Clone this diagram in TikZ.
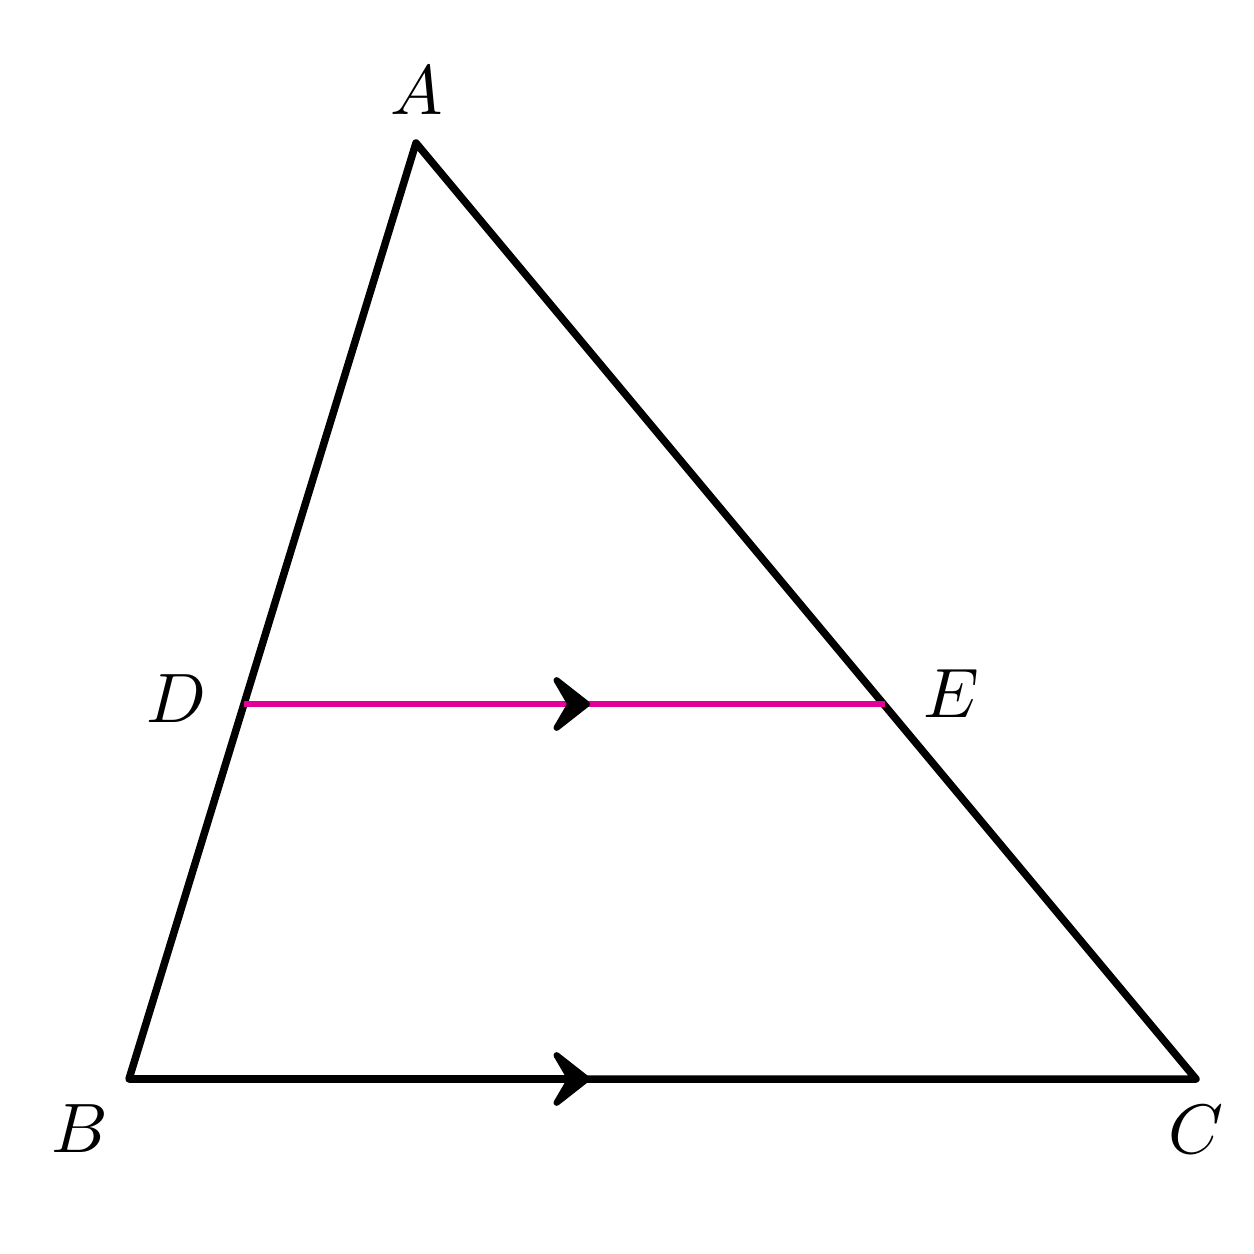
\documentclass[tikz,border=0pt]{standalone}
\usetikzlibrary{arrows.meta}
\definecolor{mag}{RGB}{228,0,150}
\begin{document}
\begin{tikzpicture}[x=1pt,y=-1pt,
  side/.style={line width=7.5pt,line join=round,line cap=round},
  lab/.style={scale=7, inner sep=0pt},
  chev/.style={-{Stealth[length=46pt,width=72pt,inset=21pt,round]}}]
\useasboundingbox (0,0) rectangle (1254,1254);
\coordinate (A) at (416,143);
\coordinate (B) at (129,1079);
\coordinate (C) at (1196,1079);
\coordinate (D) at (243.8,704);
\coordinate (E) at (885,704);
\coordinate (M0) at (587,704);
\coordinate (M1) at (590,704);
\coordinate (M2) at (590,1079);
\draw[side] (A) -- (B) -- (C) -- cycle;
\draw[mag,line width=6pt] (D) -- (E);
\draw[line width=7.5pt,chev] (B) -- (M2);
\path[line width=7.5pt,chev,draw] (M0) -- (M1);
\node[lab] (lA) at (417,91) {$A$};
\node[lab] (lB) at (80,1129) {$B$};
\node[lab] (lC) at (1196,1130) {$C$};
\node[lab] (lD) at (176,699) {$D$};
\node[lab] (lE) at (951,694) {$E$};
\end{tikzpicture}
\end{document}
